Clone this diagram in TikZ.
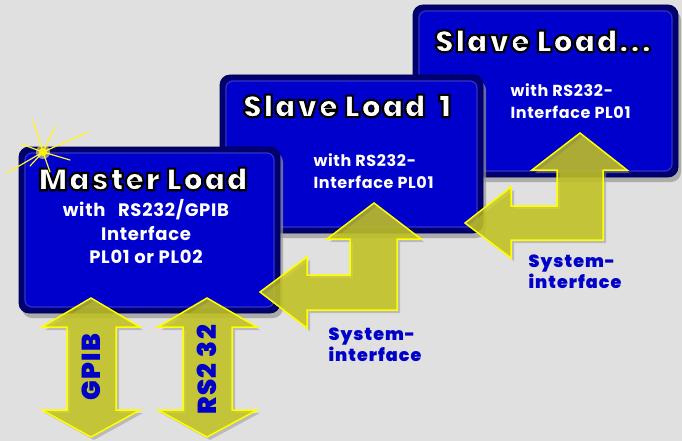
\documentclass[tikz,border=0pt]{standalone}
\usepackage{fontspec}
\setmainfont{Poppins}[LetterSpace=4]
% heavy title face: the glyph outlines are stroked as well as filled
\newfontfamily\headfont{Poppins Black}[LetterSpace=5, FakeBold=7]
\newfontfamily\labelfont{Poppins Black}[LetterSpace=6]

% colours
\definecolor{bg}{RGB}{224,224,224}
\definecolor{boxblue}{RGB}{0,0,204}
\definecolor{boxnavy}{RGB}{0,0,112}
\definecolor{boxrim}{RGB}{50,50,200}
\definecolor{arrowfill}{RGB}{199,199,20}
\definecolor{arrowline}{RGB}{255,255,0}
\definecolor{labelblue}{RGB}{0,0,200}
\definecolor{shade}{RGB}{150,150,150}

% white lettering, glyph strokes painted black
\newcommand\outlined[1]{\textcolor{white}{\special{pdf:literal direct 0 0 0 RG}#1}}

\tikzset{
  boxouter/.style={fill=boxnavy, draw=boxnavy!70!black, line width=0.8pt,
    rounded corners=10pt, inner sep=0pt,
    preaction={fill=shade, fill opacity=0.7, transform canvas={shift={(3,5)}}}},
  boxinner/.style={fill=boxblue, draw=boxrim, line width=1.2pt,
    rounded corners=7pt, inner sep=0pt},
  headtext/.style={font=\headfont\fontsize{30.5}{32}\selectfont},
  bodytext/.style={text=white, font=\bfseries\fontsize{18}{23.5}\selectfont, align=center},
  subtext/.style={text=white, font=\bfseries\fontsize{16}{22}\selectfont, align=left, anchor=west},
  sysarrow/.style={fill=arrowfill, fill opacity=0.78, draw=arrowline, line width=1.5pt,
    line join=miter,
    preaction={fill=shade, fill opacity=0.5, draw=none, transform canvas={shift={(3,3)}}}},
  arrowlabel/.style={text=labelblue, font=\labelfont\fontsize{26}{26}\selectfont, rotate=90},
  syslabel/.style={text=labelblue, font=\labelfont\fontsize{17.5}{21}\selectfont, align=left, anchor=west},
  ray/.style={draw=yellow!85!white, line width=1.2pt, line cap=round},
}

\begin{document}
\begin{tikzpicture}[x=1pt,y=-1pt]
\useasboundingbox (0,0) rectangle (682,441);
\fill[bg] (0,0) rectangle (682,441);

% --- Slave Load... (rear box)
\node[boxouter, minimum width=265pt, minimum height=172pt] (slaveN) at (545.5,91) {};
\node[boxinner, minimum width=253pt, minimum height=160pt] (slaveNin) at (slaveN.center) {};
\node[headtext] (slaveNtitle) at (543,41) {\outlined{Slave Load...}};
\node[subtext] (slaveNsub) at (507,101) {with RS232-\\Interface PL01};

% --- Slave Load 1
\node[boxouter, minimum width=263pt, minimum height=158pt] (slave1) at (351.5,154) {};
\node[boxinner, minimum width=251pt, minimum height=146pt] (slave1in) at (slave1.center) {};
\node[headtext] (slave1title) at (347,106) {\outlined{Slave Load\ \ 1}};
\node[subtext] (slave1sub) at (310,171.5) {with RS232-\\Interface PL01};

% --- system interface arrow between the two slaves
\draw[sysarrow] (580,133) -- (627,170) -- (603,170) -- (603,240) -- (511,240)
  -- (511,258) -- (465,223) -- (511,187) -- (511,206) -- (557,206) -- (557,170)
  -- (532,170) -- cycle;
\node[syslabel] (sys2) at (525,272) {System-\\interface};

% --- Master Load (front box)
\node[boxouter, minimum width=261pt, minimum height=166pt] (master) at (149.5,230) {};
\node[boxinner, minimum width=249pt, minimum height=154pt] (masterin) at (master.center) {};
\node[headtext] (mastertitle) at (143,179) {\outlined{Master Load}};
\node[bodytext] (mastersub) at (146,232) {with\hspace{0.7em}RS232/GPIB\\Interface\\PL01 or PL02};

% --- system interface arrow between master and slave 1
\draw[sysarrow] (374,203) -- (421,239) -- (397,239) -- (397,310) -- (307,310)
  -- (307,328) -- (260,292) -- (307,257) -- (307,275) -- (350,275) -- (350,239)
  -- (327,239) -- cycle;
\node[syslabel] (sys1) at (325,344.5) {System-\\interface};

% --- GPIB and RS232 double arrows
\draw[sysarrow] (91,298) -- (140,327) -- (116,327) -- (116,410) -- (140,410)
  -- (91,437) -- (42,410) -- (67,410) -- (67,327) -- (42,327) -- cycle;
\node[arrowlabel] (gpib) at (91,367) {GPIB};
\draw[sysarrow] (207,298) -- (257,327) -- (232,327) -- (232,410) -- (257,410)
  -- (207,437) -- (158,410) -- (183,410) -- (183,327) -- (158,327) -- cycle;
\node[arrowlabel] (rs232) at (207,370) {RS2 32};

% --- sparkle on the master box corner
\coordinate (spark) at (43,152);
\foreach \tx/\ty in {33/120, 55/127, 88/132, 7/173, 21/144, 70/160, 50/172, 30/166}
  \draw[ray] (spark) -- (\tx,\ty);
\fill[yellow!60!white, opacity=0.6] (spark) circle (7pt);
\fill[yellow] (spark) circle (4pt);
\end{tikzpicture}
\end{document}
